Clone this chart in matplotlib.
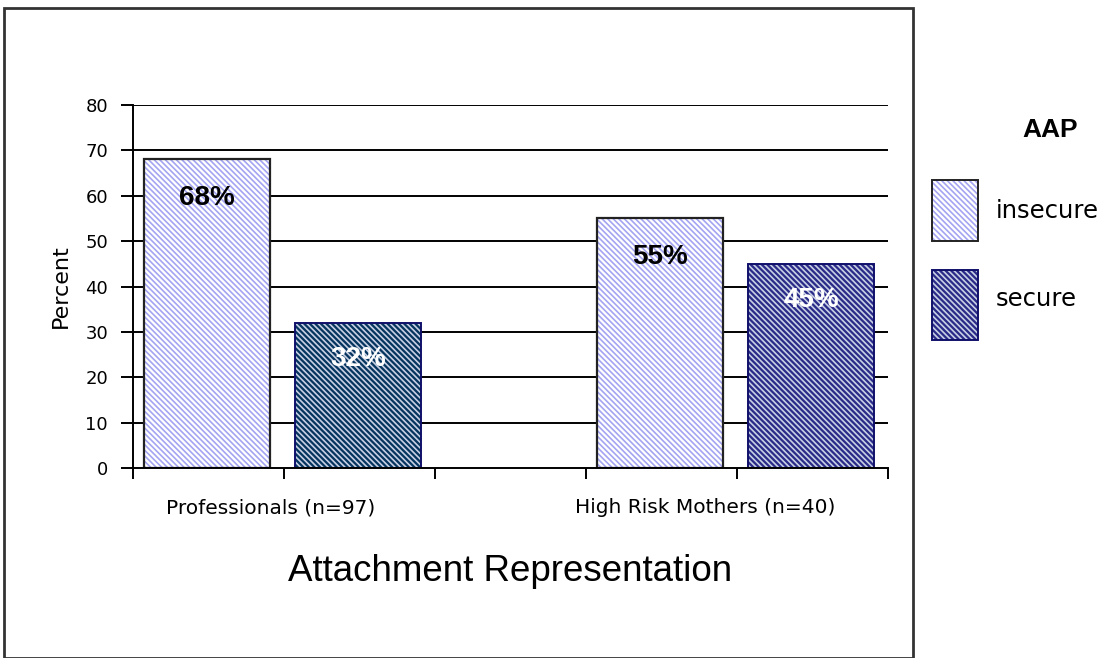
import matplotlib
matplotlib.use("Agg")
import matplotlib.pyplot as plt
from matplotlib.patches import Rectangle

plt.rcParams['font.family'] = ['Liberation Sans', 'DejaVu Sans']
plt.rcParams['hatch.linewidth'] = 1.2

# data
groups = ['Professionals (n=97)', 'High Risk Mothers (n=40)']
insecure = [68, 55]
secure = [32, 45]
yticks = [0, 10, 20, 30, 40, 50, 60, 70, 80]
legend_title = 'AAP'
series_names = ['insecure', 'secure']

# slots on the x axis (5 slots, middle one empty)
ins_pos = [0.49, 3.49]
sec_pos = [1.49, 4.49]
bar_w = 0.83
sec_face = ['#05355f', '#2a2a88']
HATCH = '\\' * 6
light_hatch = '#a4a4f2'
wide = 'DejaVu Sans'

fig = plt.figure(figsize=(11.17, 6.58), dpi=100)
fig.patch.set_facecolor('white')
ax = fig.add_axes([133/1117, 1-468/658, (888-133)/1117, (468-105)/658])

# outer frame
fig.patches.append(Rectangle((4/1117, 0), (913-4)/1117, 1-8/658, transform=fig.transFigure,
                             fill=False, edgecolor='#333333', lw=2.0, zorder=0))

for y in yticks[1:]:
    ax.axhline(y, color='black', lw=1.4, zorder=1)

# insecure bars: light hatch, black outline
ax.bar(ins_pos, insecure, width=bar_w, color='white', edgecolor=light_hatch, hatch=HATCH,
       lw=0, zorder=2)
ax.bar(ins_pos, insecure, width=bar_w, fill=False, edgecolor='#222222', lw=1.6, zorder=3)
# secure bars: dark fill, white hatch
for i in range(len(secure)):
    ax.bar(sec_pos[i], secure[i], width=bar_w, color=sec_face[i], edgecolor='#c8d0e4',
           hatch=HATCH, lw=0, zorder=2)
    ax.bar(sec_pos[i], secure[i], width=bar_w, fill=False, edgecolor='#10106a', lw=1.4, zorder=3)

for i in range(len(insecure)):
    ax.text(ins_pos[i], insecure[i] - 8.5, f'{insecure[i]}%', ha='center', va='center',
            fontsize=20, fontweight='bold', color='black', zorder=4)
    ax.text(sec_pos[i], secure[i] - 8, f'{secure[i]}%', ha='center', va='center',
            fontsize=20, fontweight='bold', color='white', zorder=4)

ax.set_xlim(0, 5)
ax.set_ylim(0, 80)
ax.set_yticks(yticks)
ax.set_xticks([0, 1, 2, 3, 4, 5])
ax.set_xticklabels([])
ax.tick_params(axis='y', length=9, width=1.4, labelsize=13, pad=9)
for lab in ax.get_yticklabels():
    lab.set_family(wide)
ax.tick_params(axis='x', length=8, width=1.4)
for s in ['top', 'right']:
    ax.spines[s].set_visible(False)
for s in ['left', 'bottom']:
    ax.spines[s].set_linewidth(1.4)
    ax.spines[s].set_zorder(5)
ax.set_ylabel('Percent', fontsize=16, family=wide, labelpad=10)

# category labels
ax.text(0.91, -8.8, groups[0], ha='center', va='center', fontsize=14.5, family=wide)
ax.text(3.79, -8.8, groups[1], ha='center', va='center', fontsize=14.5, family=wide)
ax.text(2.5, -22.7, 'Attachment Representation', ha='center', va='center', fontsize=26.5,
        clip_on=False)

# legend
fig.text(1050/1117, 1-130/658, legend_title, ha='center', va='center', fontsize=19,
         fontweight='bold')
lx, lw_ = 932/1117, 46/1117
fig.patches.append(Rectangle((lx, 1-241/658), lw_, 61/658, transform=fig.transFigure,
                             facecolor='white', edgecolor=light_hatch, hatch=HATCH, lw=0))
fig.patches.append(Rectangle((lx, 1-241/658), lw_, 61/658, transform=fig.transFigure,
                             fill=False, edgecolor='#222222', lw=1.4))
fig.patches.append(Rectangle((lx, 1-340/658), lw_, 70/658, transform=fig.transFigure,
                             facecolor='#2a2a88', edgecolor='#c8d0e4', hatch=HATCH, lw=0))
fig.patches.append(Rectangle((lx, 1-340/658), lw_, 70/658, transform=fig.transFigure,
                             fill=False, edgecolor='#10106a', lw=1.4))
fig.text(996/1117, 1-211/658, series_names[0], ha='left', va='center', fontsize=17.5,
         family=wide)
fig.text(996/1117, 1-299/658, series_names[1], ha='left', va='center', fontsize=17.5,
         family=wide)

fig.savefig('out.png', dpi=100)
